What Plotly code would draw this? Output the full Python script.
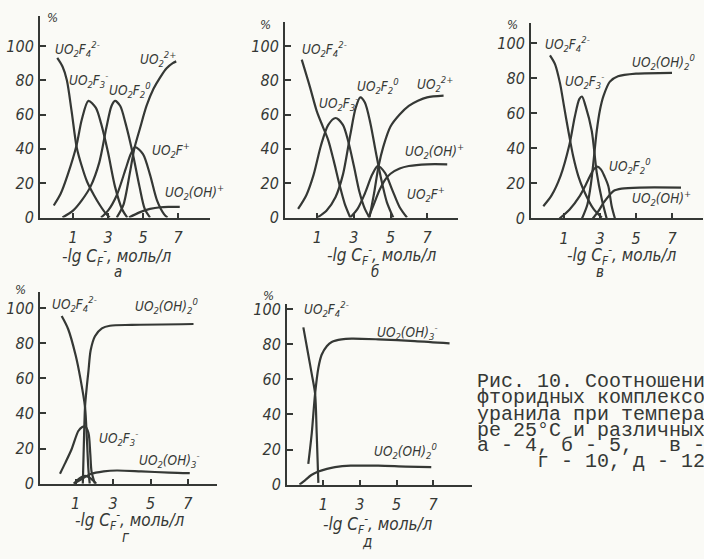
import plotly.graph_objects as go

W, H = 704, 559
INK = "#353835"
FONT = "Liberation Sans Narrow, DejaVu Sans Condensed, Liberation Sans"
MONO = "Liberation Mono"

# ---------------- species fractions (%) vs -lg C(F-) ----------------
# а : pH 4
a_f4_x = [0.1, 0.4, 0.65, 0.92, 1.21, 1.5, 1.8, 2.2, 2.55, 2.9, 3.1]
a_f4_y = [93, 88, 80, 62, 41, 30, 21, 13, 7, 2, 0]
a_f3_x = [-0.1, 0.3, 0.7, 1.2, 1.5, 1.88, 2.3, 2.6, 3.0, 3.4, 3.8, 4.1]
a_f3_y = [7, 14, 25, 42, 57, 68, 64, 55, 38, 18, 5, 0]
a_f2_x = [0.4, 1.0, 1.5, 2.0, 2.5, 2.9, 3.2, 3.4, 3.7, 4.0, 4.4, 4.8, 5.1, 5.4]
a_f2_y = [0, 4, 10, 18, 32, 52, 65, 68, 65, 55, 38, 18, 5, 0]
a_fp_x = [2.6, 3.0, 3.5, 4.0, 4.3, 4.55, 5.0, 5.4, 5.8, 6.2, 6.4]
a_fp_y = [0, 4, 13, 28, 37, 41, 37, 25, 10, 2, 0]
a_uo2_x = [3.5, 3.87, 4.25, 4.5, 4.83, 5.2, 5.6, 6.0, 6.35, 6.7, 6.9]
a_uo2_y = [0, 7, 26, 40, 52, 65, 75, 82, 87, 90, 91]
a_oh_x = [4.2, 4.8, 5.4, 6.0, 6.5, 7.1]
a_oh_y = [0, 3, 5, 6, 6.2, 6.2]

# б : pH 5
b_f4_x = [0.15, 0.6, 0.97, 1.3, 1.6, 1.9, 2.24, 2.5, 2.8]
b_f4_y = [92, 76, 62, 53, 45, 33, 18, 8, 0]
b_f3_x = [-0.05, 0.4, 0.8, 1.2, 1.6, 2.0, 2.4, 2.7, 3.0, 3.3, 3.6, 3.85]
b_f3_y = [5, 13, 25, 42, 54, 58, 54, 44, 30, 15, 5, 0]
b_f2_x = [1.0, 1.5, 2.0, 2.4, 2.8, 3.1, 3.35, 3.6, 3.9, 4.2, 4.5, 4.8, 5.15]
b_f2_y = [0, 4, 12, 25, 48, 64, 70, 67, 55, 38, 22, 9, 0]
b_fp_x = [2.8, 3.2, 3.6, 4.0, 4.3, 4.7, 5.1, 5.5, 5.9]
b_fp_y = [0, 5, 14, 25, 30, 26, 16, 6, 0]
b_uo2_x = [3.85, 4.1, 4.35, 4.6, 5.0, 5.5, 6.0, 6.5, 7.0, 7.9]
b_uo2_y = [0, 14, 30, 41, 53, 60, 65, 68, 70, 71]
b_oh_x = [3.8, 4.1, 4.4, 4.7, 5.0, 5.5, 6.0, 7.0, 8.1]
b_oh_y = [0, 8, 16, 22, 25.5, 28.5, 30, 31, 31]

# в : pH 6
c_f4_x = [0.22, 0.5, 0.78, 1.0, 1.24, 1.52, 1.8, 2.07, 2.63, 3.1]
c_f4_y = [93, 88, 77, 64, 50, 35, 24, 16.7, 5.6, 0.5]
c_f3_x = [-0.15, 0.3, 0.8, 1.3, 1.6, 1.85, 2.0, 2.2, 2.54, 2.82, 3.1, 3.37]
c_f3_y = [7, 13, 24, 42, 58, 68, 69.5, 64, 50, 26, 11, 0]
c_f2_x = [0.75, 1.3, 1.89, 2.2, 2.44, 2.65, 2.85, 3.05, 3.25, 3.46, 3.65, 3.83]
c_f2_y = [0, 5, 13, 19, 24, 28, 29.6, 28, 24, 18.5, 7, 0]
c_oh2_x = [2.0, 2.3, 2.5, 2.63, 2.82, 3.0, 3.2, 3.55, 4.0, 5.0, 7.0]
c_oh2_y = [0, 8, 20, 31.5, 50, 62, 70, 78, 81, 82.5, 83]
c_oh_x = [2.6, 2.9, 3.2, 3.5, 3.75, 4.2, 5.2, 7.5]
c_oh_y = [0, 4, 9, 13, 15.7, 17, 17.6, 17.6]

# г : pH 10
d_f4_x = [0.25, 0.6, 1.0, 1.25, 1.5, 1.6, 1.68, 1.75]
d_f4_y = [95.5, 88, 73, 60, 43.5, 25, 8, 0]
d_oh2_x = [1.38, 1.43, 1.5, 1.6, 1.68, 1.8, 2.03, 2.4, 2.83, 4.0, 7.3]
d_oh2_y = [0, 20, 44, 56, 64, 76, 84, 88.5, 90, 90.5, 91]
d_f3_x = [0.16, 0.45, 0.78, 1.14, 1.35, 1.5, 1.68, 1.78, 1.85, 2.03]
d_f3_y = [5.7, 12, 19.6, 30, 32.3, 32.6, 29, 17, 6.7, 0]
d_f2_x = [0.9, 1.2, 1.5, 1.8, 2.1]
d_f2_y = [0, 3, 4.5, 3, 0]
d_oh3_x = [0.9, 1.3, 1.8, 2.5, 3.2, 4.5, 6.0, 7.1]
d_oh3_y = [0, 2.5, 5.5, 7, 7.5, 7, 6.3, 6]

# д : pH 12
e_f4_x = [-0.09, 0.18, 0.37, 0.55, 0.64, 0.73]
e_f4_y = [89.6, 74, 63, 52, 29, 1]
e_oh3_x = [0.18, 0.37, 0.55, 0.73, 0.91, 1.2, 1.46, 2.0, 2.55, 4.0, 6.0, 7.9]
e_oh3_y = [11.8, 29.4, 51.7, 66.5, 74, 79, 81.3, 82.8, 83.2, 82.8, 81.8, 80.5]
e_oh2_x = [-0.3, 0.0, 0.35, 0.73, 1.2, 1.64, 2.5, 4.0, 5.5, 6.9]
e_oh2_y = [0, 2.5, 5.5, 7.5, 9, 10, 10.8, 10.8, 10.3, 10]

x_ticks = [1, 3, 5, 7]
y_ticks = [0, 20, 40, 60, 80, 100]

F4 = "UO<sub>2</sub>F<sub>4</sub><sup>2-</sup>"
F3 = "UO<sub>2</sub>F<sub>3</sub><sup>-</sup>"
F2 = "UO<sub>2</sub>F<sub>2</sub><sup>0</sup>"
FP = "UO<sub>2</sub>F<sup>+</sup>"
UO2 = "UO<sub>2</sub><sup>2+</sup>"
OH = "UO<sub>2</sub>(OH)<sup>+</sup>"
OH2 = "UO<sub>2</sub>(OH)<sub>2</sub><sup>0</sup>"
OH3 = "UO<sub>2</sub>(OH)<sub>3</sub><sup>-</sup>"
XTITLE = "-lg C<sub>F</sub><sup>-</sup>, моль/л"

# panel geometry in pixels: x0/sx, y0/sy = origin and scale; left/right/top = axis extents
panels = [
    dict(name="а", x0=55.5, sx=17.5, y0=219, sy=1.76, left=40, right=210, top=12,
         curves=[(a_f4_x, a_f4_y), (a_f3_x, a_f3_y), (a_f2_x, a_f2_y),
                 (a_fp_x, a_fp_y), (a_uo2_x, a_uo2_y), (a_oh_x, a_oh_y)],
         labels=[(F4, 53, 46), (UO2, 138, 56), (F3, 67, 78), (F2, 107, 88),
                 (FP, 150, 150), (OH, 163, 193)],
         pct=(52, 14), title=(117, 259), tag=(118, 275)),
    dict(name="б", x0=299, sx=18.3, y0=219, sy=1.76, left=285, right=458, top=18,
         curves=[(b_f4_x, b_f4_y), (b_f3_x, b_f3_y), (b_f2_x, b_f2_y),
                 (b_fp_x, b_fp_y), (b_uo2_x, b_uo2_y), (b_oh_x, b_oh_y)],
         labels=[(F4, 300, 46), (F2, 355, 84), (UO2, 415, 82), (F3, 317, 102),
                 (OH, 403, 151), (FP, 405, 195)],
         pct=(265, 21), title=(382, 258), tag=(375, 275)),
    dict(name="в", x0=546, sx=18, y0=220, sy=1.8, left=531, right=703, top=20,
         curves=[(c_f4_x, c_f4_y), (c_f3_x, c_f3_y), (c_f2_x, c_f2_y),
                 (c_oh2_x, c_oh2_y), (c_oh_x, c_oh_y)],
         labels=[(F4, 543, 41), (OH2, 630, 59), (F3, 563, 79), (F2, 607, 166),
                 (OH, 630, 199)],
         pct=(512, 21), title=(622, 258), tag=(600, 275)),
    dict(name="г", x0=57, sx=18.7, y0=492, sy=1.8, left=40, right=217, top=295,
         curves=[(d_f4_x, d_f4_y), (d_oh2_x, d_oh2_y), (d_f3_x, d_f3_y),
                 (d_f2_x, d_f2_y), (d_oh3_x, d_oh3_y)],
         labels=[(F4, 50, 308), (OH2, 133, 310), (F3, 97, 445), (OH3, 137, 468)],
         pct=(20, 293), title=(130, 530), tag=(126, 547)),
    dict(name="д", x0=305, sx=18.3, y0=493, sy=1.8, left=287, right=472, top=308,
         curves=[(e_f4_x, e_f4_y), (e_oh3_x, e_oh3_y), (e_oh2_x, e_oh2_y)],
         labels=[(F4, 302, 313), (OH3, 375, 336), (OH2, 372, 458)],
         pct=(268, 299), title=(378, 534), tag=(367, 552)),
]

caption = [
    ("Рис. 10. Соотношени", 475, 387),
    ("фторидных комплексо", 475, 404),
    ("уранила при темпера", 475, 421),
    ("ре 25°C и различных", 475, 437),
    ("а - 4, б - 5,   в -", 475, 453),
    ("г - 10, д - 12", 535, 469),
]

fig = go.Figure()


def note(text, x, y, size=15, xanchor="left", family=FONT, italic=True):
    fig.add_annotation(
        x=x / W, y=1 - y / H, xref="paper", yref="paper", text=text,
        showarrow=False, xanchor=xanchor, yanchor="middle",
        font=dict(family=family, size=size, color=INK,
                  style="italic" if italic else "normal"),
    )


tick_font = dict(family=FONT, size=16, color=INK, style="italic")

for i, p in enumerate(panels):
    n = "" if i == 0 else str(i + 1)
    x_rng = [(p["left"] - p["x0"]) / p["sx"], (p["right"] - p["x0"]) / p["sx"]]
    y_rng = [0, (p["y0"] - p["top"]) / p["sy"]]
    fig.layout["xaxis" + n] = dict(
        domain=[p["left"] / W, p["right"] / W], range=x_rng, anchor="y" + n,
        showline=True, linecolor=INK, linewidth=2, showgrid=False, zeroline=False,
        ticks="inside", ticklen=5, tickwidth=1.5, tickcolor=INK,
        tickvals=x_ticks, tickfont=tick_font, ticklabelstandoff=4, fixedrange=True,
    )
    fig.layout["yaxis" + n] = dict(
        domain=[1 - p["y0"] / H, 1 - p["top"] / H], range=y_rng, anchor="x" + n,
        showline=True, linecolor=INK, linewidth=2, showgrid=False, zeroline=False,
        ticks="inside", ticklen=6, tickwidth=1.5, tickcolor=INK,
        tickvals=y_ticks, tickfont=tick_font, ticklabelstandoff=1, fixedrange=True,
    )
    for cx, cy in p["curves"]:
        fig.add_trace(go.Scatter(
            x=cx, y=cy, xaxis="x" + n, yaxis="y" + n, mode="lines",
            line=dict(color=INK, width=2.2, shape="spline", smoothing=0.8),
            showlegend=False, hoverinfo="skip",
        ))
    for text, lx, ly in p["labels"]:
        note(text, lx, ly, size=13.5)
    note("%", p["pct"][0], p["pct"][1], size=13, xanchor="center")
    note(XTITLE, p["title"][0], p["title"][1], size=17, xanchor="center")
    note(p["name"], p["tag"][0], p["tag"][1], size=15, xanchor="center")

for text, cx, cy in caption:
    note(text.replace(" ", "\u00a0"), cx, cy, size=20, family=MONO, italic=False)

fig.update_layout(
    width=W, height=H, autosize=False,
    margin=dict(l=0, r=0, t=0, b=0),
    paper_bgcolor="#fafaf6", plot_bgcolor="rgba(0,0,0,0)",
)

fig.write_html("out.html")
